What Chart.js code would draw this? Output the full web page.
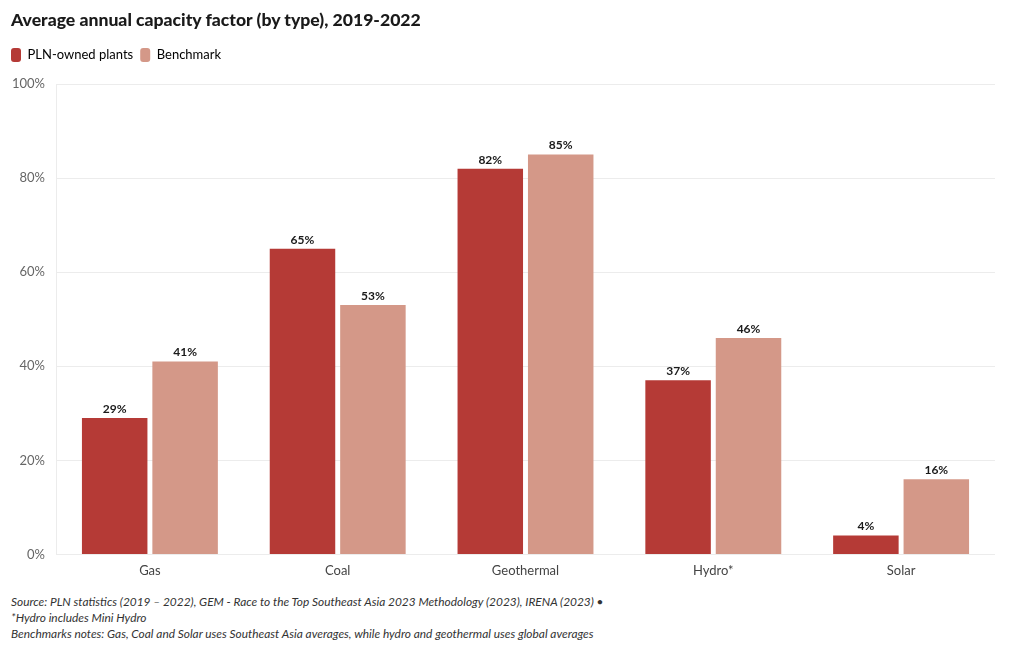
<!DOCTYPE html>
<html>
<head>
<meta charset="utf-8">
<script src="https://cdn.jsdelivr.net/npm/chart.js@4.4.0/dist/chart.umd.min.js"></script>
<style>
  html, body { margin: 0; padding: 0; background: #fff; }
  body { width: 1020px; height: 650px; position: relative; overflow: hidden; font-family: Lato, "Open Sans", sans-serif; }
  #title { position: absolute; left: 11px; top: 9px; font-size: 17.6px; font-weight: 900; color: #1a1a1a; white-space: nowrap; }
  #wrap { position: absolute; left: 0; top: 0; width: 1020px; height: 588px; }
  #foot { position: absolute; left: 11px; top: 594px; font-size: 11.9px; font-style: italic; color: #333; line-height: 16px; white-space: nowrap; }
</style>
</head>
<body>
<div id="wrap"><canvas id="c"></canvas></div>
<div id="title">Average annual capacity factor (by type), 2019-2022</div>
<div id="foot">
  <div>Source: PLN statistics (2019 – 2022), GEM - Race to the Top Southeast Asia 2023 Methodology (2023), IRENA (2023) •</div>
  <div>*Hydro includes Mini Hydro</div>
  <div>Benchmarks notes: Gas, Coal and Solar uses Southeast Asia averages, while hydro and geothermal uses global averages</div>
</div>
<script>
const categories = ["Gas", "Coal", "Geothermal", "Hydro*", "Solar"];
const plnOwned = [29, 65, 82, 37, 4];
const benchmark = [41, 53, 85, 46, 16];
const yTicks = [0, 20, 40, 60, 80, 100];
const seriesNames = ["PLN-owned plants", "Benchmark"];
const colors = ["#b53a36", "#d49888"];

const valueLabels = {
  id: 'valueLabels',
  afterDatasetsDraw(chart) {
    const ctx = chart.ctx;
    ctx.save();
    ctx.font = "bold 12px Lato, sans-serif";
    ctx.fillStyle = "#1a1a1a";
    ctx.textAlign = "center";
    ctx.textBaseline = "bottom";
    chart.data.datasets.forEach((ds, i) => {
      chart.getDatasetMeta(i).data.forEach((bar, j) => {
        ctx.fillText(ds.data[j] + "%", bar.x, bar.y - 3);
      });
    });
    ctx.restore();
  }
};

const legendSpacing = {
  id: 'legendSpacing',
  beforeInit(chart) {
    const origFit = chart.legend.fit;
    chart.legend.fit = function () {
      origFit.bind(chart.legend)();
      this.height += 12;
    };
  }
};

new Chart(document.getElementById('c'), {
  type: 'bar',
  data: {
    labels: categories,
    datasets: [
      { label: seriesNames[0], data: plnOwned, backgroundColor: colors[0], categoryPercentage: 0.75, barPercentage: 0.93 },
      { label: seriesNames[1], data: benchmark, backgroundColor: colors[1], categoryPercentage: 0.75, barPercentage: 0.93 }
    ]
  },
  options: {
    responsive: true,
    maintainAspectRatio: false,
    animation: false,
    layout: { padding: { top: 41, left: 4, right: 25, bottom: 0 } },
    plugins: {
      title: { display: false },
      tooltip: { enabled: false },
      legend: {
        display: true,
        align: 'start',
        labels: {
          boxWidth: 10,
          boxHeight: 14,
          padding: 7,
          color: '#333',
          font: { family: 'Lato, sans-serif', size: 13 },
          generateLabels(chart) {
            return chart.data.datasets.map((ds, i) => ({
              text: ds.label, fillStyle: ds.backgroundColor, strokeStyle: ds.backgroundColor,
              lineWidth: 0, borderRadius: 3, datasetIndex: i, hidden: false
            }));
          }
        }
      }
    },
    scales: {
      x: {
        grid: { display: false, drawTicks: false },
        border: { display: false },
        ticks: { color: '#444', padding: 9, font: { family: 'Lato, sans-serif', size: 13 } }
      },
      y: {
        min: 0, max: 100,
        afterFit(scale) { scale.width = 52; },
        afterBuildTicks(scale) { scale.ticks = yTicks.map(v => ({ value: v })); },
        grid: { color: '#ececec', drawTicks: false, lineWidth: 1 },
        border: { display: true, color: '#ececec' },
        ticks: {
          color: '#666', padding: 11,
          font: { family: 'Lato, sans-serif', size: 13 },
          callback: v => v + '%'
        }
      }
    }
  },
  plugins: [valueLabels, legendSpacing]
});
</script>
</body>
</html>
